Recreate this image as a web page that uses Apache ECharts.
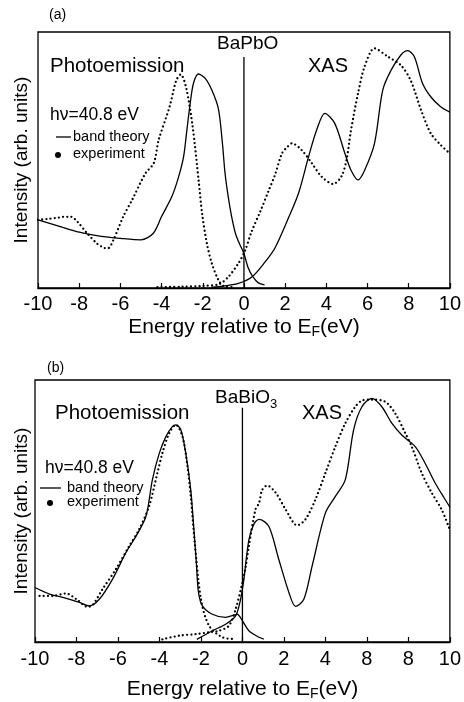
<!DOCTYPE html>
<html>
<head>
<meta charset="utf-8">
<script src="https://cdn.jsdelivr.net/npm/echarts@6/dist/echarts.min.js"></script>
<style>
  html, body { margin: 0; padding: 0; background: #fff; }
  #chart { width: 464px; height: 702px; }
</style>
</head>
<body>
<div id="chart"></div>
<script>
// tick labels (panel b carries the "8" for 6 exactly as printed)
const tickLabelsA = ['-10', '-8', '-6', '-4', '-2', '0', '2', '4', '6', '8', '10']
const tickLabelsB = ['-10', '-8', '-6', '-4', '-2', '0', '2', '4', '8', '8', '10']

// panel (a) BaPbO3
const peTheoryAEnergy = [-10, -9, -8, -7, -6, -5, -4.4, -4.0, -3.5, -3.17, -2.93, -2.77, -2.61, -2.45, -2.21, -1.88, -1.56, -1.24, -1.05, -0.92, -0.77, -0.6, -0.4, -0.2, 0, 0.2, 0.43, 0.7, 1.0]
const peTheoryA = [26.6, 24.2, 21.8, 20.3, 19.4, 18.8, 21.4, 27.9, 35.7, 43.5, 51.3, 61.7, 72.1, 80, 83.6, 81.9, 77.3, 70, 57, 45, 36, 28, 21, 17, 13.5, 8, 4.4, 2, 1.2]
const peExpAEnergy = [-10, -9.5, -9, -8.75, -8.4, -8.1, -7.62, -7.14, -6.8, -6.6, -6.34, -5.86, -5.43, -4.78, -4.38, -4.14, -3.61, -3.29, -3.07, -2.8, -2.49, -2.2, -2.03, -1.8, -1.56, -1.24, -1.0, -0.6]
const peExpA = [26.6, 27, 27.5, 27.8, 27.8, 26, 21.4, 17.4, 15.7, 15.5, 18.7, 27.9, 34.4, 44.8, 48.7, 57.8, 70.8, 81, 83.4, 78, 63, 42, 29, 17.4, 9.6, 3.1, 0.8, 0.3]
const xasTheoryAEnergy = [-1.6, -1.2, -0.27, 0.4, 1.04, 1.5, 2.17, 2.65, 3.13, 3.53, 3.93, 4.41, 4.9, 5.2, 5.54, 5.86, 6.34, 6.74, 7.14, 7.62, 7.95, 8.27, 8.67, 9.07, 9.55, 10]
const xasTheoryA = [0.2, 0.5, 1.8, 4.4, 10.3, 15.5, 27.5, 37, 51, 61.7, 68.2, 64.3, 52.6, 46, 42.2, 46, 56.5, 77.3, 85, 91, 92.7, 90.4, 80, 74.7, 70.8, 68.7]
const xasExpAEnergy = [-4.2, -3, -2, -1.2, -0.75, -0.27, 0.05, 0.37, 0.8, 1.2, 1.5, 1.85, 2.1, 2.33, 2.8, 3.3, 3.77, 4.33, 4.73, 4.98, 5.2, 5.54, 5.86, 6.34, 6.98, 7.62, 8.1, 8.6, 9.07, 9.55, 10]
const xasExpA = [0.3, 0.5, 0.8, 1.5, 4.4, 9.6, 14.5, 22, 30, 38, 44, 52.6, 55, 56.5, 53.9, 48.7, 43.5, 40.6, 43.5, 50, 61.7, 76, 86.5, 93.6, 90.4, 87, 81, 69.5, 60.4, 55.9, 52.5]
const fermiA = [[0, 0], [0, 90.2]]

// panel (b) BaBiO3
const peTheoryBEnergy = [-10, -9.3, -8.66, -7.86, -7.38, -6.9, -6.26, -5.62, -5.13, -4.65, -4.34, -4.01, -3.69, -3.38, -3.21, -2.97, -2.73, -2.49, -2.35, -2.22, -2.12, -1.93, -1.45, -0.81, -0.4, -0.25, 0, 0.31, 0.8, 1.03]
const peTheoryB = [20.8, 18.3, 17, 15.1, 13.8, 16.3, 24, 34.1, 40.4, 48, 62, 72, 78.4, 82.2, 82.9, 81, 72, 58, 44, 30, 19, 13.8, 10.6, 9.4, 10.3, 10.6, 8.1, 4.3, 1.8, 1.1]
const peExpBEnergy = [-9.78, -9.14, -8.5, -8.0, -7.46, -7.22, -6.74, -6.1, -5.46, -4.98, -4.5, -4.1, -3.86, -3.53, -3.21, -2.89, -2.65, -2.49, -2.3, -2.0, -1.61, -0.97, -0.33]
const peExpB = [17.6, 17.6, 18.5, 16.3, 13.4, 14.1, 20.2, 27.8, 36.6, 43, 51.8, 64.5, 72, 79.7, 82.9, 78.4, 67, 55.6, 38, 16.3, 6.2, 1.8, 1.1]
const xasTheoryBEnergy = [-2.2, -1.45, -0.81, -0.33, -0.09, 0.07, 0.31, 0.55, 0.8, 1.27, 1.75, 2.24, 2.56, 2.96, 3.36, 4.0, 4.48, 4.96, 5.36, 5.76, 6.24, 6.72, 7.2, 7.68, 8.33, 8.8, 9.29, 9.77, 10]
const xasTheoryB = [1, 4.3, 6.8, 10, 16.3, 24, 39, 45, 46.8, 44.2, 31.6, 18.9, 13.6, 16.3, 29, 49.3, 55.6, 62, 81, 89.8, 93, 89.8, 83.5, 79, 74.6, 68.3, 60.7, 54.4, 51.5]
const xasExpBEnergy = [-3.86, -3.05, -2.25, -1.6, -1.13, -0.65, -0.33, 0, 0.15, 0.31, 0.63, 0.8, 0.95, 1.19, 1.6, 2.08, 2.64, 3.04, 3.52, 4.0, 4.48, 4.96, 5.44, 5.76, 6.24, 6.88, 7.36, 7.85, 8.16, 8.64, 9.12, 9.6, 9.96]
const xasExpB = [1, 2.4, 3, 3.7, 4.3, 6.2, 12.5, 22.7, 28.4, 36.6, 50.6, 53, 58, 59.7, 57, 50.6, 44.5, 46.8, 54.4, 64.5, 74.6, 83.5, 89.8, 92.1, 92.5, 91.7, 87.3, 79.7, 74.6, 64.5, 57, 50.6, 43.6]
const fermiB = [[0, 0], [0, 89.4]]

const FONT = 'Liberation Sans, Arial, sans-serif'
const zip = (xs, ys) => xs.map((x, i) => [x, ys[i]])

const solid = { color: '#000', width: 1.3 }
const dotted = { color: '#000', width: 2.3, type: [0, 4.2], cap: 'round' }

const line = (idx, data, style) => ({
  type: 'line',
  xAxisIndex: idx,
  yAxisIndex: idx,
  data: data,
  symbol: 'none',
  smooth: 0.3,
  lineStyle: style,
  silent: true
})

// value axis: carries the scale, ticks and title
const makeX = (idx, nameGap) => ({
  type: 'value',
  gridIndex: idx,
  min: -10,
  max: 10,
  interval: 2,
  axisLine: { show: true, lineStyle: { color: '#000', width: 1.3 } },
  axisTick: { show: true, inside: true, length: 5, lineStyle: { color: '#000', width: 1.2 } },
  splitLine: { show: false },
  axisLabel: { show: false },
  name: 'Energy relative to E{f|F}(eV)',
  nameLocation: 'middle',
  nameGap: nameGap,
  nameTextStyle: {
    color: '#000', fontSize: 21, fontFamily: FONT,
    rich: { f: { fontSize: 14, fontFamily: FONT, color: '#000', padding: [10, 0, 0, 0] } }
  }
})

// label-only axis: the printed tick texts, one per major tick
const makeTickText = (idx, labels, margin) => ({
  type: 'category',
  gridIndex: idx,
  position: 'bottom',
  data: labels,
  boundaryGap: false,
  axisLine: { show: false },
  axisTick: { show: false },
  splitLine: { show: false },
  axisLabel: { interval: 0, color: '#000', fontSize: 20, fontFamily: FONT, margin: margin }
})

const makeY = (idx, nameGap) => ({
  type: 'value',
  gridIndex: idx,
  min: 0,
  max: 100,
  axisLine: { show: false },
  axisTick: { show: false },
  axisLabel: { show: false },
  splitLine: { show: false },
  name: 'Intensity (arb. units)',
  nameLocation: 'middle',
  nameRotate: 90,
  nameGap: nameGap,
  nameTextStyle: { color: '#000', fontSize: 19, fontFamily: FONT }
})

const txt = (x, y, text, size) => ({
  type: 'text', x: x, y: y, silent: true,
  style: { text: text, fill: '#000', font: size + 'px ' + FONT, align: 'left', verticalAlign: 'middle' }
})

const chart = echarts.init(document.getElementById('chart'))
chart.setOption({
  animation: false,
  backgroundColor: '#fff',
  grid: [
    { left: 38, top: 32, width: 417, height: 256, show: true, borderColor: '#000', borderWidth: 1.3 },
    { left: 35, top: 380, width: 418, height: 263, show: true, borderColor: '#000', borderWidth: 1.3 }
  ],
  xAxis: [
    makeX(0, 27),
    makeX(1, 35),
    makeTickText(0, tickLabelsA, 6),
    makeTickText(1, tickLabelsB, 7)
  ],
  yAxis: [makeY(0, 7), makeY(1, 4)],
  series: [
    line(0, zip(peTheoryAEnergy, peTheoryA), solid),
    line(0, zip(peExpAEnergy, peExpA), dotted),
    line(0, zip(xasTheoryAEnergy, xasTheoryA), solid),
    line(0, zip(xasExpAEnergy, xasExpA), dotted),
    Object.assign(line(0, fermiA, solid), { smooth: false }),
    line(1, zip(peTheoryBEnergy, peTheoryB), solid),
    line(1, zip(peExpBEnergy, peExpB), dotted),
    line(1, zip(xasTheoryBEnergy, xasTheoryB), solid),
    line(1, zip(xasExpBEnergy, xasExpB), dotted),
    Object.assign(line(1, fermiB, solid), { smooth: false })
  ],
  graphic: [
    // panel (a) annotations
    txt(49, 15, '(a)', 14),
    txt(217, 44, 'BaPbO', 19),
    txt(50, 66, 'Photoemission', 20.5),
    txt(308, 66, 'XAS', 20),
    txt(50, 115, 'h\u03bd=40.8 eV', 17.5),
    { type: 'line', silent: true, shape: { x1: 56, y1: 137, x2: 71, y2: 137 }, style: { stroke: '#000', lineWidth: 1.3 } },
    txt(73, 137, 'band theory', 14.5),
    { type: 'circle', silent: true, shape: { cx: 58, cy: 155, r: 3 }, style: { fill: '#000' } },
    txt(73, 154, 'experiment', 14.5),
    // panel (b) annotations
    txt(47, 368, '(b)', 14),
    txt(215, 398, 'BaBiO', 19),
    txt(270, 404, '3', 13),
    txt(55, 413, 'Photoemission', 20.5),
    txt(302, 413, 'XAS', 20),
    txt(45, 468, 'h\u03bd=40.8 eV', 17.5),
    { type: 'line', silent: true, shape: { x1: 40, y1: 488, x2: 61, y2: 488 }, style: { stroke: '#000', lineWidth: 1.3 } },
    txt(67, 488, 'band theory', 14.5),
    { type: 'circle', silent: true, shape: { cx: 50, cy: 503, r: 3 }, style: { fill: '#000' } },
    txt(67, 502, 'experiment', 14.5)
  ]
})
</script>
</body>
</html>
